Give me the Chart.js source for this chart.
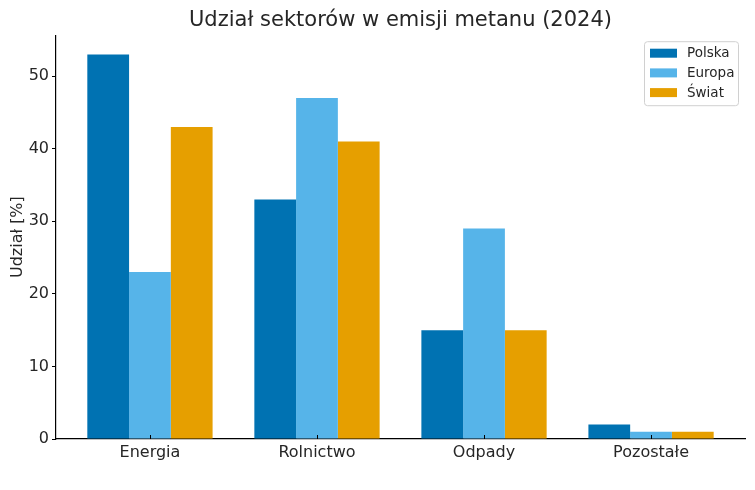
<!DOCTYPE html>
<html>
<head>
<meta charset="utf-8">
<script src="https://cdn.jsdelivr.net/npm/chart.js@4"></script>
<style>
  html, body { margin: 0; padding: 0; background: #fff; }
  #wykres { display: block; }
</style>
</head>
<body>
<canvas id="wykres" width="755" height="490"></canvas>
<script>
const sektory = ['Energia', 'Rolnictwo', 'Odpady', 'Pozostałe'];
const polska = [53, 33, 15, 2];
const europa = [23, 47, 29, 1];
const swiat = [43, 41, 15, 1];
const serie = ['Polska', 'Europa', 'Świat'];
const kolory = ['#0072B2', '#56B4E9', '#E69F00'];

const tekst = '#262626';
const czcionka = 'DejaVu Sans';

function punkty(arr) {
    return arr.map((v, i) => ({ x: i, y: v }));
}

// kreski osi X skierowane do środka, rysowane nad słupkami
const kreskiX = {
    id: 'kreskiX',
    afterDatasetsDraw(chart) {
        const ctx = chart.ctx;
        const sx = chart.scales.x;
        const dol = chart.chartArea.bottom;
        ctx.save();
        ctx.strokeStyle = '#000';
        ctx.lineWidth = 1;
        sektory.forEach((_, i) => {
            const px = Math.round(sx.getPixelForValue(i)) + 0.5;
            ctx.beginPath();
            ctx.moveTo(px, dol);
            ctx.lineTo(px, dol - 4);
            ctx.stroke();
        });
        ctx.restore();
    }
};

// legenda rysowana w obszarze wykresu, w prawym górnym rogu
const legendaWewnatrz = {
    id: 'legendaWewnatrz',
    afterDraw(chart) {
        const ctx = chart.ctx;
        const area = chart.chartArea;
        const w = 94, h = 64;
        const x = area.right - 101, y = area.top + 6;
        ctx.save();
        ctx.fillStyle = 'rgba(255,255,255,0.8)';
        ctx.strokeStyle = '#d0d0d0';
        ctx.lineWidth = 1;
        ctx.beginPath();
        ctx.roundRect(x + 0.5, y + 0.5, w, h, 3);
        ctx.fill();
        ctx.stroke();
        ctx.font = '13.5px "' + czcionka + '"';
        ctx.textBaseline = 'middle';
        serie.forEach((nazwa, i) => {
            const cy = y + 12 + i * 19.7;
            ctx.fillStyle = kolory[i];
            ctx.fillRect(x + 6, cy - 4.5, 27, 9);
            ctx.fillStyle = tekst;
            ctx.fillText(nazwa, x + 43, cy + 0.5);
        });
        ctx.restore();
    }
};

new Chart(document.getElementById('wykres'), {
    type: 'bar',
    data: {
        datasets: [
            { label: serie[0], data: punkty(polska), backgroundColor: kolory[0] },
            { label: serie[1], data: punkty(europa), backgroundColor: kolory[1] },
            { label: serie[2], data: punkty(swiat), backgroundColor: kolory[2] }
        ]
    },
    options: {
        responsive: false,
        animation: false,
        devicePixelRatio: 1,
        layout: { padding: { left: 0, right: 10, top: 0, bottom: 0 } },
        datasets: {
            bar: { categoryPercentage: 0.75, barPercentage: 1.0, borderWidth: 0 }
        },
        plugins: {
            legend: { display: false },
            tooltip: { enabled: false },
            title: {
                display: true,
                fullSize: false,
                text: 'Udział sektorów w emisji metanu (2024)',
                color: tekst,
                font: { family: czcionka, size: 21, weight: 'normal', lineHeight: 1.2 },
                padding: { top: 8, bottom: 2 }
            }
        },
        scales: {
            x: {
                type: 'linear',
                offset: false,
                min: -0.5625,
                max: 3.5625,
                border: { display: true, color: '#000', width: 1.2 },
                grid: { display: false, offset: false, drawOnChartArea: false, tickLength: 0 },
                ticks: {
                    stepSize: 1,
                    includeBounds: false,
                    autoSkip: false,
                    maxRotation: 0,
                    padding: 4,
                    color: tekst,
                    font: { family: czcionka, size: 16 },
                    callback: v => sektory[v] || ''
                },
                afterFit: s => { s.height = 51; }
            },
            y: {
                min: 0,
                max: 55.65,
                border: { display: true, color: '#000', width: 1.2 },
                grid: { drawOnChartArea: false, color: '#000', tickColor: '#000', tickLength: 4 },
                ticks: {
                    stepSize: 10,
                    includeBounds: false,
                    padding: 3,
                    color: tekst,
                    font: { family: czcionka, size: 16 }
                },
                title: {
                    display: true,
                    text: 'Udział [%]',
                    color: tekst,
                    font: { family: czcionka, size: 16 },
                    padding: { top: 8, bottom: 4 }
                },
                afterFit: s => { s.width = 56; }
            }
        }
    },
    plugins: [kreskiX, legendaWewnatrz]
});
</script>
</body>
</html>
